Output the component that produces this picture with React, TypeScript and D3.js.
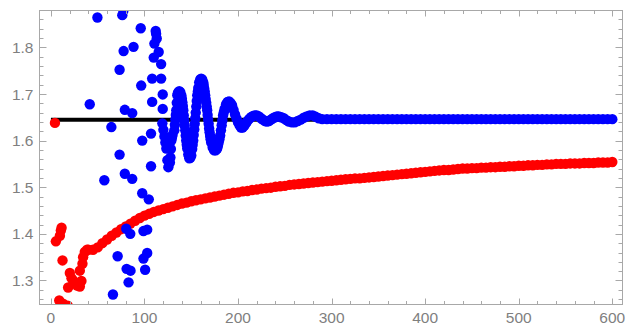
import { useEffect, useRef } from 'react';
import * as d3 from 'd3';

// tick labels
const xTicks = [0, 100, 200, 300, 400, 500, 600];
const yTicks = [1.3, 1.4, 1.5, 1.6, 1.7, 1.8];

// reference level (pi^2/6)
const refLineX = [0, 600];
const refLineY = 1.6449;

// red series: scattered start, then the smooth band sampled every 5
const redStart: [number, number][] = [
  [4.3, 1.638], [5.3, 1.384], [9.6, 1.396], [10.6, 1.407], [11.4, 1.413], [12.4, 1.343],
  [8.9, 1.257], [13, 1.25], [18, 1.246], [18.4, 1.285], [20.2, 1.316], [22, 1.305],
  [23.7, 1.3], [25.5, 1.296], [28, 1.289], [30.9, 1.287], [32.6, 1.299], [30.9, 1.321],
  [33.7, 1.336], [34.4, 1.35], [36.2, 1.361], [38.6, 1.366],
];
const redBandX = d3.range(40, 601, 5);
const redBandY = [
  1.366, 1.366, 1.371, 1.38, 1.388, 1.396, 1.403, 1.41, 1.416, 1.422,
  1.428, 1.434, 1.439, 1.443, 1.447, 1.45, 1.453, 1.456, 1.459, 1.462,
  1.465, 1.467, 1.47, 1.472, 1.474, 1.476, 1.478, 1.48, 1.482, 1.484,
  1.486, 1.488, 1.489, 1.491, 1.492, 1.494, 1.495, 1.497, 1.498, 1.499,
  1.501, 1.502, 1.503, 1.505, 1.506, 1.507, 1.508, 1.509, 1.51, 1.511,
  1.512, 1.513, 1.514, 1.515, 1.516, 1.517, 1.518, 1.519, 1.519, 1.52,
  1.521, 1.522, 1.523, 1.524, 1.525, 1.526, 1.527, 1.528, 1.529, 1.53,
  1.531, 1.532, 1.533, 1.534, 1.535, 1.536, 1.537, 1.537, 1.538, 1.539,
  1.54, 1.54, 1.541, 1.541, 1.542, 1.542, 1.543, 1.543, 1.544, 1.544,
  1.545, 1.545, 1.546, 1.546, 1.547, 1.547, 1.548, 1.548, 1.549, 1.549,
  1.55, 1.55, 1.55, 1.551, 1.551, 1.551, 1.552, 1.552, 1.552, 1.553,
  1.553, 1.553, 1.554,
];

// blue series: scattered points, the damped wave, then the flat tail
const blueScatter: [number, number][] = [
  [49.7, 1.864], [76.3, 1.869], [77.5, 1.879], [96, 1.841], [77.7, 1.792], [88.3, 1.801],
  [73.4, 1.752], [96.5, 1.718], [41.5, 1.678], [79, 1.666], [86.9, 1.659], [64.6, 1.629],
  [97.6, 1.6], [107, 1.615], [107, 1.545], [73.4, 1.57], [79, 1.529], [86.9, 1.518],
  [57.1, 1.515], [97.6, 1.487], [104.6, 1.474], [80.5, 1.411], [84.8, 1.4], [98.9, 1.406],
  [102.9, 1.409], [71.3, 1.352], [102.9, 1.359], [98.9, 1.347], [80.9, 1.325], [85.1, 1.321],
  [100.7, 1.323], [83, 1.296], [66.3, 1.27],
  [108.2, 1.733], [108.2, 1.683], [109.9, 1.778], [110.6, 1.808], [112.4, 1.829], [112, 1.835],
  [113.1, 1.819], [115.2, 1.79], [117.8, 1.764], [117.8, 1.733], [119.5, 1.699], [119.5, 1.668],
];
const blueWave: [number, number][] = [
  [119.1, 1.637], [120.2, 1.623], [121.3, 1.609], [122.3, 1.596], [123.4, 1.583], [124.5, 1.558],
  [125.5, 1.543], [127.2, 1.553], [127.7, 1.564], [128.2, 1.582], [128.7, 1.6], [129.3, 1.606],
  [130, 1.612], [131.9, 1.622], [132.5, 1.634], [133, 1.645], [133.5, 1.655], [134, 1.665],
  [134.5, 1.681], [135.1, 1.697], [135.6, 1.701], [136.2, 1.704], [137.2, 1.706], [138.3, 1.704],
  [139.4, 1.697], [140, 1.69], [140.5, 1.682], [141, 1.674], [141.5, 1.665], [142, 1.654],
  [142.5, 1.643], [143, 1.632], [143.6, 1.622], [144.1, 1.611], [144.6, 1.6], [145.2, 1.591],
  [145.7, 1.583], [146.8, 1.57], [147.9, 1.562], [149, 1.563], [150, 1.568], [151, 1.582],
  [151.5, 1.591], [152.1, 1.6], [152.6, 1.612], [153.2, 1.624], [153.7, 1.636], [154.3, 1.648],
  [154.8, 1.66], [155.4, 1.673], [155.9, 1.685], [156.4, 1.697], [157, 1.705], [157.5, 1.713],
  [158.5, 1.725], [159.6, 1.731], [160.6, 1.733], [161.7, 1.731], [162.8, 1.725], [163.3, 1.719],
  [163.8, 1.712], [164.4, 1.705], [164.9, 1.697], [165.4, 1.689], [166, 1.681], [166.5, 1.673],
  [167, 1.665], [167.5, 1.655], [168, 1.645], [168.6, 1.636], [169.1, 1.626], [169.6, 1.618],
  [170.2, 1.61], [170.7, 1.603], [171.3, 1.596], [172.9, 1.585], [174.5, 1.579], [176.1, 1.579],
  [177.7, 1.583], [178.5, 1.589], [179.3, 1.596], [180.1, 1.603], [180.9, 1.611], [181.7, 1.622],
  [182.5, 1.633], [183.2, 1.643], [184, 1.654], [184.8, 1.661], [185.6, 1.668], [187.2, 1.678],
  [188.8, 1.683], [190.4, 1.684], [192, 1.681], [193.6, 1.676], [195.2, 1.666], [196.8, 1.656],
  [198.4, 1.647], [200, 1.639], [201.6, 1.633], [203.2, 1.628], [204.8, 1.628], [206.4, 1.631],
  [208, 1.636], [209.6, 1.641], [211.7, 1.646], [213.8, 1.65], [216, 1.653], [218, 1.654],
  [220, 1.654], [222.3, 1.652], [224.5, 1.648], [226.6, 1.645], [228.8, 1.642], [230.9, 1.641],
  [233, 1.642], [235.1, 1.645], [237.3, 1.648], [239.4, 1.65], [241.5, 1.652], [243.6, 1.652],
  [246.2, 1.65], [248.9, 1.648], [251.6, 1.644], [254.3, 1.641], [257.5, 1.639], [260.6, 1.639],
  [263.8, 1.642], [267, 1.645], [270.2, 1.649], [273.4, 1.652], [276.6, 1.654], [279.8, 1.654],
  [283, 1.651], [286.2, 1.648],
];
const blueTailX = d3.range(290, 601, 5);
const blueTailY = [
  1.646, 1.646, 1.646, 1.646, 1.646, 1.646, 1.646, 1.646, 1.646, 1.646,
  1.646, 1.646, 1.646, 1.646, 1.646, 1.646, 1.646, 1.646, 1.646, 1.646,
  1.646, 1.646, 1.646, 1.646, 1.646, 1.646, 1.646, 1.646, 1.646, 1.646,
  1.646, 1.646, 1.646, 1.646, 1.646, 1.646, 1.646, 1.646, 1.646, 1.646,
  1.646, 1.646, 1.646, 1.646, 1.646, 1.646, 1.646, 1.646, 1.646, 1.646,
  1.646, 1.646, 1.646, 1.646, 1.646, 1.646, 1.646, 1.646, 1.646, 1.646,
  1.646, 1.646, 1.646,
];

const WIDTH = 628;
const HEIGHT = 326;

export default function App() {
  const svgRef = useRef<SVGSVGElement>(null);

  useEffect(() => {
    if (!svgRef.current) return;
    const svg = d3.select(svgRef.current);
    svg.selectAll('*').remove();

    const left = 39.5, right = 622.5, top = 10.5, bottom = 304.5;
    const x = d3.scaleLinear().domain([-12.2, 610.9]).range([left, right]);
    const y = d3.scaleLinear().domain([1.2485, 1.879]).range([bottom, top]);

    const frameColor = '#a8a8a8';
    const labelColor = '#7f7f7f';

    const defs = svg.append('defs');
    defs.append('clipPath').attr('id', 'plot-clip')
      .append('rect')
      .attr('x', left).attr('y', top)
      .attr('width', right - left).attr('height', bottom - top);

    const plot = svg.append('g').attr('clip-path', 'url(#plot-clip)');

    plot.append('line')
      .attr('x1', x(refLineX[0])).attr('x2', x(refLineX[1]))
      .attr('y1', y(refLineY)).attr('y2', y(refLineY))
      .attr('stroke', '#000').attr('stroke-width', 4);

    const r = 5.2;
    const red: [number, number][] = [
      ...redStart,
      ...redBandX.map((v, i) => [v, redBandY[i]] as [number, number]).filter((d) => d[1] != null),
    ];
    plot.append('g').selectAll('circle')
      .data(red)
      .join('circle')
      .attr('cx', (d) => x(d[0]))
      .attr('cy', (d) => y(d[1]))
      .attr('r', r)
      .attr('fill', '#ff0000');

    const blue: [number, number][] = [
      ...blueScatter,
      ...blueWave,
      ...blueTailX.map((v, i) => [v, blueTailY[i]] as [number, number]).filter((d) => d[1] != null),
    ];
    plot.append('g').selectAll('circle')
      .data(blue)
      .join('circle')
      .attr('cx', (d) => x(d[0]))
      .attr('cy', (d) => y(d[1]))
      .attr('r', r)
      .attr('fill', '#0000ff');

    // frame
    svg.append('rect')
      .attr('x', left).attr('y', top)
      .attr('width', right - left).attr('height', bottom - top)
      .attr('fill', 'none').attr('stroke', frameColor).attr('stroke-width', 1);

    const ticks = svg.append('g').attr('stroke', frameColor).attr('stroke-width', 1);
    const xMinor = d3.range(0, 601, 20).filter((v) => v % 100 !== 0);
    const yMinor = d3.range(1.26, 1.88, 0.02).filter((v) => Math.abs(v * 10 - Math.round(v * 10)) > 0.01);

    xTicks.forEach((v) => {
      const px = Math.round(x(v)) + 0.5;
      ticks.append('line').attr('x1', px).attr('x2', px).attr('y1', bottom).attr('y2', bottom - 6);
      ticks.append('line').attr('x1', px).attr('x2', px).attr('y1', top).attr('y2', top + 6);
    });
    xMinor.forEach((v) => {
      const px = Math.round(x(v)) + 0.5;
      ticks.append('line').attr('x1', px).attr('x2', px).attr('y1', bottom).attr('y2', bottom - 3.5);
      ticks.append('line').attr('x1', px).attr('x2', px).attr('y1', top).attr('y2', top + 3.5);
    });
    yTicks.forEach((v) => {
      const py = Math.round(y(v)) + 0.5;
      ticks.append('line').attr('x1', left).attr('x2', left + 7).attr('y1', py).attr('y2', py);
      ticks.append('line').attr('x1', right).attr('x2', right - 7).attr('y1', py).attr('y2', py);
    });
    yMinor.forEach((v) => {
      const py = Math.round(y(v)) + 0.5;
      ticks.append('line').attr('x1', left).attr('x2', left + 4).attr('y1', py).attr('y2', py);
      ticks.append('line').attr('x1', right).attr('x2', right - 4).attr('y1', py).attr('y2', py);
    });

    const labels = svg.append('g')
      .attr('font-family', '"Liberation Sans", Arial, sans-serif')
      .attr('font-size', 15.5)
      .attr('fill', labelColor);

    labels.selectAll('.xl')
      .data(xTicks)
      .join('text')
      .attr('x', (d) => x(d))
      .attr('y', 323)
      .attr('text-anchor', 'middle')
      .text((d) => String(d));

    labels.selectAll('.yl')
      .data(yTicks)
      .join('text')
      .attr('x', left - 6)
      .attr('y', (d) => y(d))
      .attr('dy', '0.36em')
      .attr('text-anchor', 'end')
      .text((d) => d.toFixed(1));
  }, []);

  return (
    <svg
      ref={svgRef}
      width={WIDTH}
      height={HEIGHT}
      style={{ position: 'absolute', left: 0, top: 0, background: '#fff' }}
    />
  );
}
